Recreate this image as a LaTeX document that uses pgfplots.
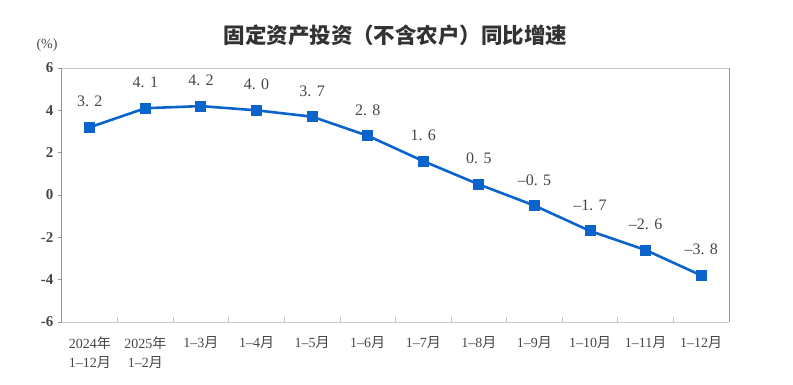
\documentclass[border=0pt]{standalone}
\usepackage{fontspec}
\setmainfont{Liberation Serif}
\newfontfamily\cjk{Noto Sans CJK SC}
\usepackage{pgfplots}
\pgfplotsset{compat=1.18}
\definecolor{lineblue}{RGB}{10,100,204}
\definecolor{txt}{RGB}{70,70,70}
\definecolor{titletxt}{RGB}{50,50,50}
\definecolor{frame}{RGB}{200,200,200}
\definecolor{yax}{RGB}{150,150,150}
\begin{document}
\begin{tikzpicture}
\path[use as bounding box] (-62pt,-63pt) rectangle (731pt,322pt);
\begin{axis}[
  at={(0,0)}, anchor=south west,
  scale only axis, width=667pt, height=254pt,
  xmin=-0.5, xmax=11.5, ymin=-6, ymax=6,
  axis line style={frame, line width=0.9pt},
  separate axis lines,
  y axis line style={yax, line width=1pt},
  xtick={0,...,11},
  major x tick style={draw=none},
  minor xtick={0.5,1.5,...,10.5},
  minor x tick style={frame, line width=0.8pt},
  minor tick length=5pt,
  xtick pos=bottom, xtick align=inside,
  ytick={-6,-4,...,6},
  ytick pos=left, ytick align=outside,
  major y tick style={yax, line width=0.8pt},
  major tick length=4pt,
  yticklabels={-6,-4,-2,0,2,4,6},
  yticklabel style={font=\fontsize{15}{17}\selectfont\bfseries, text=txt, xshift=-1pt},
  xticklabel style={font=\fontsize{14}{19}\selectfont, text=txt, align=center, yshift=-11pt},
  xticklabels={{2024{\cjk 年}\\1--12{\cjk 月}},{2025{\cjk 年}\\1--2{\cjk 月}},1--3{\cjk 月},1--4{\cjk 月},1--5{\cjk 月},1--6{\cjk 月},1--7{\cjk 月},1--8{\cjk 月},1--9{\cjk 月},1--10{\cjk 月},1--11{\cjk 月},1--12{\cjk 月}},
  clip=false,
  nodes near coords,
  point meta=explicit symbolic,
  every node near coord/.append style={font=\fontsize{16}{18}\selectfont, text=txt, yshift=17pt},
]
\addplot[color=lineblue, line width=2.6pt, mark=square*, mark size=5pt, mark options={fill=lineblue, draw=lineblue, line width=0pt}] coordinates {
(0,3.2) [3. 2]
(1,4.1) [4. 1]
(2,4.2) [4. 2]
(3,4.0) [4. 0]
(4,3.7) [3. 7]
(5,2.8) [2. 8]
(6,1.6) [1. 6]
(7,0.5) [0. 5]
(8,-0.5) [--0. 5]
(9,-1.7) [--1. 7]
(10,-2.6) [--2. 6]
(11,-3.8) [--3. 8]
};
\node[font=\fontsize{14}{16}\selectfont, text=txt] at (rel axis cs:0,1) [xshift=-15pt, yshift=23pt] {(\%)};
\node[font=\cjk\fontsize{21.5}{25}\selectfont\bfseries, text=titletxt] at (rel axis cs:0.5,1) [xshift=0pt, yshift=33pt] {固定资产投资（不含农户）同比增速};
\end{axis}
\end{tikzpicture}
\end{document}
